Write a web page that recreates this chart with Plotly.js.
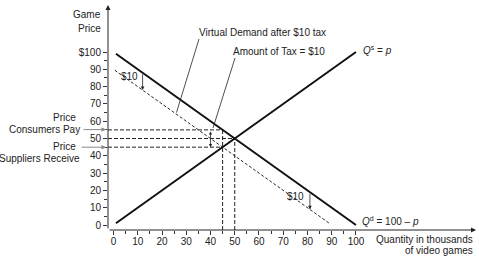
<!DOCTYPE html>
<html>
<head>
<meta charset="utf-8">
<script src="https://cdn.plot.ly/plotly-3.0.1.min.js"></script>
<style>html,body{margin:0;padding:0;background:#fff;}#chart{width:479px;height:256px;}</style>
</head>
<body>
<div id="chart"></div>
<script>
// ---- data ----
const supplyQ = [1, 100];
const supplyP = [1, 100];
const demandQ = [1, 100];
const demandP = [99, 0];
const virtualQ = [0.5, 89.5];
const virtualP = [89.5, 0.5];
const priceConsumersPay = 55;
const priceEquilibrium = 50;
const priceSuppliersReceive = 45;
const qtyWithTax = 45;
const qtyEquilibrium = 50;
const taxArrowQ = [12, 81];          // where "$10" arrows sit
const taxArrowTop = [88, 19];        // demand price at those quantities
const taxArrowBottom = [78, 9];      // virtual demand price
const taxAmountQ = 40;
const xTickVals = [0,10,20,30,40,50,60,70,80,90,100];
const xTickText = ['0','10','20','30','40','50','60','70','80','90','100'];
const yTickVals = [0,10,20,30,40,50,60,70,80,90,100];
const yTickText = ['0','10','20','30','40','50','60','70','80','90','$100'];
const minorTickVals = [5,15,25,35,45,55,65,75,85,95];

// ---- layout helpers ----
const W = 479, H = 256;
const M = {l:108, r:3, t:5, b:26};
const XR = [-2.27, 149.5], YR = [-2.89, 127.2];
const PX = px => (px - M.l) / (W - M.l - M.r);
const PY = py => (H - M.b - py) / (H - M.t - M.b);
const font = {family: '"Liberation Sans", Arial, sans-serif', size: 10, color: '#222'};
const lineC = '#111';

const guide = {color: '#222', width: 1, dash: '4px,2px'};
const traces = [
  {x: [XR[0], qtyWithTax], y: [priceConsumersPay, priceConsumersPay]},
  {x: [XR[0], qtyEquilibrium], y: [priceEquilibrium, priceEquilibrium]},
  {x: [XR[0], qtyWithTax], y: [priceSuppliersReceive, priceSuppliersReceive]},
  {x: [qtyWithTax, qtyWithTax], y: [YR[0], priceConsumersPay]},
  {x: [qtyEquilibrium, qtyEquilibrium], y: [YR[0], priceEquilibrium]}
].map(t => Object.assign(t, {mode: 'lines', line: guide, hoverinfo: 'skip', cliponaxis: false}));

traces.push({x: virtualQ, y: virtualP, mode: 'lines', line: {color: lineC, width: 0.9, dash: '3px,2px'}});
traces.push({x: supplyQ, y: supplyP, mode: 'lines', line: {color: lineC, width: 2}});
traces.push({x: demandQ, y: demandP, mode: 'lines', line: {color: lineC, width: 2}});

const ann = [];
// axis arrows
ann.push({x: XR[1], y: YR[0], ax: XR[0], ay: YR[0], xref: 'x', yref: 'y', axref: 'x', ayref: 'y',
  showarrow: true, arrowhead: 2, arrowsize: 1, arrowwidth: 1, arrowcolor: '#222', text: '', standoff: 0});
ann.push({x: XR[0], y: YR[1], ax: XR[0], ay: YR[0], xref: 'x', yref: 'y', axref: 'x', ayref: 'y',
  showarrow: true, arrowhead: 2, arrowsize: 1, arrowwidth: 1, arrowcolor: '#222', text: '', standoff: 0});
// $10 shift arrows
for (let i = 0; i < taxArrowQ.length; i++) {
  ann.push({x: taxArrowQ[i], y: taxArrowBottom[i], ax: taxArrowQ[i], ay: taxArrowTop[i],
    xref: 'x', yref: 'y', axref: 'x', ayref: 'y', showarrow: true, arrowhead: 2,
    arrowsize: 0.9, arrowwidth: 0.8, arrowcolor: '#222', text: '', standoff: 0, startstandoff: 0});
}
// tax amount double arrow
ann.push({x: taxAmountQ, y: priceSuppliersReceive, ax: taxAmountQ, ay: priceConsumersPay,
  xref: 'x', yref: 'y', axref: 'x', ayref: 'y', showarrow: true, arrowhead: 2, startarrowhead: 2,
  arrowside: 'end+start', arrowsize: 0.8, startarrowsize: 0.8, arrowwidth: 0.8, arrowcolor: '#222', text: ''});
// gray price arrows
ann.push({x: PX(106), y: PY(129.6), xref: 'paper', yref: 'paper', ax: -24, ay: 0, showarrow: true,
  arrowhead: 2, arrowsize: 0.9, arrowwidth: 1, arrowcolor: '#888', text: ''});
ann.push({x: PX(106), y: PY(147.2), xref: 'paper', yref: 'paper', ax: -26, ay: 0, showarrow: true,
  arrowhead: 2, arrowsize: 0.9, arrowwidth: 1, arrowcolor: '#888', text: ''});

function label(text, px, py, xanchor, align) {
  ann.push({text: text, x: PX(px), y: PY(py), xref: 'paper', yref: 'paper', xanchor: xanchor || 'center',
    yanchor: 'middle', align: align || 'center', showarrow: false, font: font, borderpad: 0});
}
label('Game', 102, 15, 'right');
label('Price', 102, 28, 'right');
label('Price', 77, 117, 'right');
label('Consumers Pay', 81, 129.5, 'right');
label('Price', 77, 146, 'right');
label('Suppliers Receive', 81, 158.5, 'right');
label('Virtual Demand after $10 tax', 262, 32);
label('Amount of Tax = $10', 279, 51.5);
label('<i>Q</i><sup>s</sup> = <i>p</i>', 362, 50, 'left');
label('<i>Q</i><sup>d</sup> = 100 \u2013 <i>p</i>', 361, 221, 'left');
label('Quantity in thousands', 474, 239, 'right');
label('of video games', 474, 250.5, 'right');
label('$10', 129, 77);
label('$10', 295, 196.5);

const shapes = [
  {type: 'line', xref: 'paper', yref: 'paper', x0: PX(199), y0: PY(39), x1: PX(176.5), y1: PY(112.5),
    line: {color: '#222', width: 0.8}},
  {type: 'line', xref: 'paper', yref: 'paper', x0: PX(235), y0: PY(58), x1: PX(213), y1: PY(128),
    line: {color: '#222', width: 0.8}}
];

const layout = {
  width: W, height: H, margin: M, showlegend: false,
  paper_bgcolor: '#fff', plot_bgcolor: '#fff', font: font,
  xaxis: {range: XR, showgrid: false, zeroline: false, showline: false, tickmode: 'array',
    tickvals: xTickVals, ticktext: xTickText, ticks: 'outside', ticklen: 4, tickwidth: 1, tickcolor: '#333',
    tickfont: font, fixedrange: true, ticklabelstandoff: -2,
    minor: {tickmode: 'array', tickvals: minorTickVals, ticks: 'outside', ticklen: 3, tickwidth: 1, tickcolor: '#333'}},
  yaxis: {range: YR, showgrid: false, zeroline: false, showline: false, tickmode: 'array',
    tickvals: yTickVals, ticktext: yTickText, ticks: 'outside', ticklen: 4, tickwidth: 1, tickcolor: '#333',
    tickfont: font, fixedrange: true,
    minor: {tickmode: 'array', tickvals: minorTickVals, ticks: 'outside', ticklen: 3, tickwidth: 1, tickcolor: '#333'}},
  annotations: ann, shapes: shapes
};
Plotly.newPlot('chart', traces, layout, {staticPlot: true, displayModeBar: false});
</script>
</body>
</html>
